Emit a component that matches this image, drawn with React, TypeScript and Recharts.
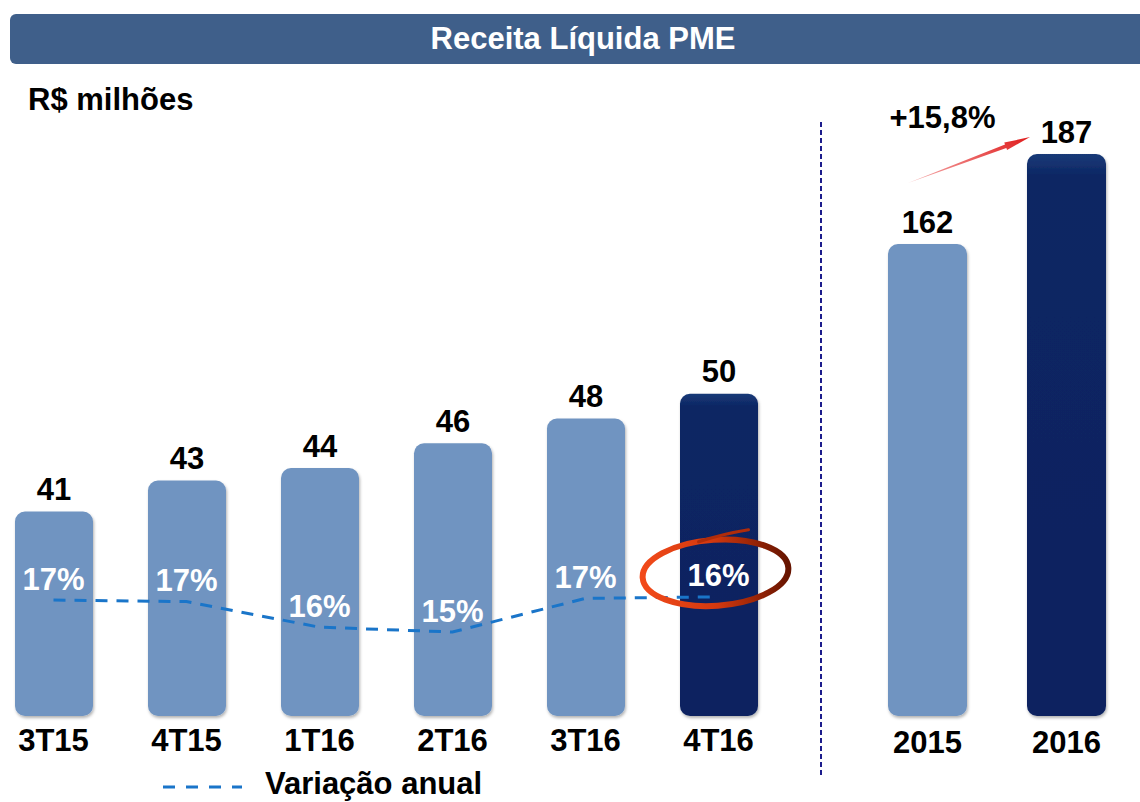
import { ComposedChart, Bar, Line, XAxis, YAxis, Cell, LabelList } from 'recharts'

// quarterly net revenue (R$ millions) and year-over-year change
const QUARTERS = ['3T15', '4T15', '1T16', '2T16', '3T16', '4T16']
const QUARTER_REVENUE = [40.5, 43, 44, 46, 48, 50]
const ANNUAL_CHANGE = [17.0, 16.9, 15.3, 15.0, 17.1, 17.2]
const ANNUAL_CHANGE_LABELS = ['17%', '17%', '16%', '15%', '17%', '16%']

// yearly totals
const YEARS = ['2015', '2016']
const YEAR_REVENUE = [162, 187]
const GROWTH_LABEL = '+15,8%'

const FONT = '"Liberation Sans", Arial, sans-serif'
const FS = 31
const LIGHT = '#7094c1'
const LINE = '#1a75c9'

const quarterData = QUARTERS.map((q, i) => ({ q, rev: QUARTER_REVENUE[i], pct: ANNUAL_CHANGE[i] }))
const yearData = YEARS.map((y, i) => ({ y, rev: YEAR_REVENUE[i] }))

function AxisTick({ x, y, payload, dy }: any) {
  return (
    <text x={x} y={y + dy} textAnchor="middle" dominantBaseline="central"
      fontFamily={FONT} fontWeight={700} fontSize={FS} fill="#000">
      {payload.value}
    </text>
  )
}

function ValueLabel({ x, y, width, value }: any) {
  return (
    <text x={x + width / 2} y={y - 22} textAnchor="middle" dominantBaseline="central"
      fontFamily={FONT} fontWeight={700} fontSize={FS} fill="#000">
      {Math.round(value)}
    </text>
  )
}

function PctLabel({ x, y, index }: any) {
  const last = index === ANNUAL_CHANGE.length - 1
  return (
    <g>
      {last && (
        <g>
          <ellipse cx={x - 3} cy={y - 24} rx={73} ry={33} fill="none"
            stroke="url(#ring)" strokeWidth={6} transform={`rotate(-4 ${x - 3} ${y - 24})`} />
          <path d={`M ${x - 20} ${y - 55} Q ${x + 5} ${y - 63} ${x + 30} ${y - 67}`}
            fill="none" stroke="#b02c0a" strokeWidth={3} strokeLinecap="round" />
        </g>
      )}
      <text x={x} y={y - 21} textAnchor="middle" dominantBaseline="central"
        fontFamily={FONT} fontWeight={700} fontSize={FS} fill="#fff">
        {ANNUAL_CHANGE_LABELS[index]}
      </text>
    </g>
  )
}

function YearLabel(props: any) {
  const { x, y, width, index } = props
  if (index !== 0) return <ValueLabel {...props} />
  // growth arrow from above 2015 towards 2016
  const tx = x + 20, ty = y - 61
  const hx = x + 142, hy = y - 107
  const dx = hx - tx, dy = hy - ty
  const len = Math.sqrt(dx * dx + dy * dy)
  const ux = dx / len, uy = dy / len
  const nx = -uy, ny = ux
  const bx = hx - ux * 26, by = hy - uy * 26
  const pts = [
    [tx, ty],
    [bx + nx * 1.8, by + ny * 1.8],
    [bx + nx * 4, by + ny * 4],
    [hx, hy],
    [bx - nx * 4, by - ny * 4],
    [bx - nx * 1.8, by - ny * 1.8],
  ].map((p) => p.join(',')).join(' ')
  return (
    <g>
      <ValueLabel {...props} />
      <polygon points={pts} fill="url(#arrow)" />
      <text x={x + width / 2 + 15} y={y - 127} textAnchor="middle" dominantBaseline="central"
        fontFamily={FONT} fontWeight={700} fontSize={FS} fill="#000">
        {GROWTH_LABEL}
      </text>
    </g>
  )
}

export default function App() {
  return (
    <div style={{ position: 'absolute', left: 0, top: 0, width: 1140, height: 802, overflow: 'hidden', background: '#fff', fontFamily: FONT }}>
      <svg width={0} height={0} style={{ position: 'absolute' }}>
        <defs>
          <linearGradient id="darkBar" x1="0" y1="0" x2="0" y2="1">
            <stop offset="0" stopColor="#1a3a78" />
            <stop offset="0.04" stopColor="#0c2663" />
            <stop offset="1" stopColor="#0a2260" />
          </linearGradient>
          <linearGradient id="ring" x1="0" y1="0" x2="1" y2="0">
            <stop offset="0" stopColor="#f24a1a" />
            <stop offset="0.5" stopColor="#d2380e" />
            <stop offset="1" stopColor="#661400" />
          </linearGradient>
          <linearGradient id="arrow" x1="0" y1="1" x2="1" y2="0">
            <stop offset="0" stopColor="#f6b0b0" />
            <stop offset="1" stopColor="#e01c1c" />
          </linearGradient>
          <filter id="shadow" x="-20%" y="-10%" width="140%" height="130%">
            <feDropShadow dx={1} dy={2} stdDeviation={1.5} floodColor="#000" floodOpacity={0.3} />
          </filter>
        </defs>
      </svg>

      {/* Header */}
      <div style={{
        position: 'absolute', left: 10, top: 14, width: 1140, height: 50,
        background: '#3f5f8a', borderRadius: 6, color: '#fff',
        fontWeight: 700, fontSize: FS, lineHeight: '50px',
      }}>
        <span style={{ position: 'absolute', left: 573, transform: 'translateX(-50%)', whiteSpace: 'nowrap' }}>
          Receita Líquida PME
        </span>
      </div>

      <div style={{ position: 'absolute', left: 28, top: 83, fontSize: FS, fontWeight: 700, lineHeight: '34px', color: '#000' }}>
        R$ milhões
      </div>

      {/* Quarterly chart */}
      <div style={{ position: 'absolute', left: -13, top: 0 }}>
        <ComposedChart width={812} height={802} data={quarterData} margin={{ top: 100, right: 14, bottom: 0, left: 0 }}>
          <XAxis dataKey="q" axisLine={false} tickLine={false} tickSize={0} tickMargin={0} height={86}
            interval={0} tick={<AxisTick dy={24} />} />
          <YAxis yAxisId="rev" hide domain={[24, 73.7]} />
          <YAxis yAxisId="pct" hide domain={[9.75, 48.25]} />
          <Bar yAxisId="rev" dataKey="rev" barSize={78} radius={10} isAnimationActive={false}>
            {quarterData.map((d, i) => (
              <Cell key={d.q} fill={i === quarterData.length - 1 ? 'url(#darkBar)' : LIGHT} filter="url(#shadow)" />
            ))}
            <LabelList dataKey="rev" content={<ValueLabel />} />
          </Bar>
          <Line yAxisId="pct" type="linear" dataKey="pct" stroke={LINE} strokeWidth={3}
            strokeDasharray="12 9" dot={false} activeDot={false} isAnimationActive={false}>
            <LabelList dataKey="pct" content={<PctLabel />} />
          </Line>
        </ComposedChart>
      </div>

      {/* divider and legend swatch */}
      <svg width={1140} height={802} style={{ position: 'absolute', left: 0, top: 0, pointerEvents: 'none' }}>
        <line x1={821} y1={122} x2={821} y2={778} stroke="#1c1c8c" strokeWidth={2} strokeDasharray="5 3" />
        <line x1={163} y1={787} x2={242} y2={787} stroke={LINE} strokeWidth={3} strokeDasharray="12 11" />
      </svg>

      {/* Yearly chart */}
      <div style={{ position: 'absolute', left: 858, top: 0 }}>
        <ComposedChart width={278} height={802} data={yearData} margin={{ top: 100, right: 0, bottom: 0, left: 0 }}>
          <XAxis dataKey="y" axisLine={false} tickLine={false} tickSize={0} tickMargin={0} height={86}
            interval={0} tick={<AxisTick dy={26} />} />
          <YAxis hide domain={[31, 202]} />
          <Bar dataKey="rev" barSize={79} radius={10} isAnimationActive={false}>
            {yearData.map((d, i) => (
              <Cell key={d.y} fill={i === yearData.length - 1 ? 'url(#darkBar)' : LIGHT} filter="url(#shadow)" />
            ))}
            <LabelList dataKey="rev" content={<YearLabel />} />
          </Bar>
        </ComposedChart>
      </div>

      {/* Legend */}
      <div style={{ position: 'absolute', left: 265, top: 767, fontSize: FS, fontWeight: 700, lineHeight: '34px', color: '#000' }}>
        Variação anual
      </div>
    </div>
  )
}
